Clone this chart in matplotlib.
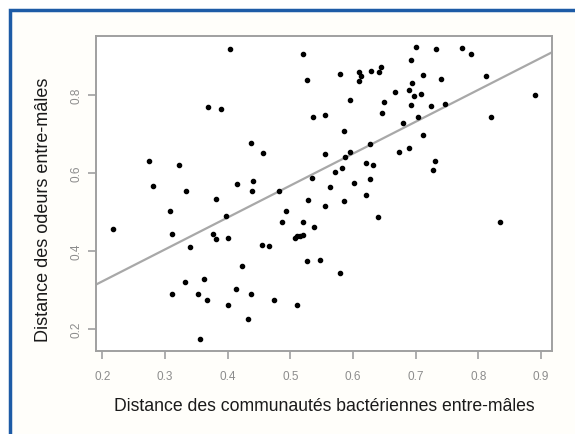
import numpy as np
import matplotlib
matplotlib.use('Agg')
import matplotlib.pyplot as plt
from matplotlib.patches import Rectangle

# bacterial community distance between males
bact_dist = [
    0.217, 0.274, 0.281, 0.322, 0.308, 0.312, 0.334, 0.340, 0.312, 0.332,
    0.353, 0.356, 0.362, 0.367, 0.368, 0.389, 0.377, 0.381, 0.382, 0.398,
    0.401, 0.401, 0.404, 0.415, 0.414, 0.423, 0.438, 0.440, 0.439, 0.433,
    0.437, 0.457, 0.455, 0.466, 0.474, 0.482, 0.493, 0.486, 0.507, 0.511,
    0.515, 0.521, 0.521, 0.511, 0.520, 0.527, 0.528, 0.526, 0.535, 0.536,
    0.537, 0.548, 0.556, 0.556, 0.556, 0.563, 0.571, 0.579, 0.580, 0.583,
    0.585, 0.586, 0.588, 0.595, 0.596, 0.602, 0.609, 0.609, 0.613, 0.620,
    0.620, 0.627, 0.627, 0.629, 0.632, 0.642, 0.644, 0.640, 0.646, 0.650,
    0.667, 0.680, 0.674, 0.689, 0.690, 0.692, 0.694, 0.692, 0.698, 0.701,
    0.704, 0.709, 0.711, 0.711, 0.725, 0.728, 0.730, 0.733, 0.740, 0.746,
    0.774, 0.789, 0.812, 0.820, 0.835, 0.890,
]
# odour distance between males
odour_dist = [
    0.456, 0.631, 0.567, 0.622, 0.502, 0.444, 0.553, 0.411, 0.290, 0.320,
    0.291, 0.175, 0.330, 0.274, 0.769, 0.763, 0.444, 0.430, 0.534, 0.491,
    0.434, 0.263, 0.919, 0.571, 0.303, 0.361, 0.677, 0.581, 0.555, 0.226,
    0.290, 0.652, 0.416, 0.414, 0.274, 0.553, 0.502, 0.474, 0.434, 0.438,
    0.440, 0.442, 0.474, 0.261, 0.904, 0.839, 0.530, 0.375, 0.587, 0.744,
    0.461, 0.377, 0.750, 0.649, 0.515, 0.565, 0.602, 0.344, 0.855, 0.614,
    0.709, 0.528, 0.642, 0.787, 0.654, 0.575, 0.859, 0.837, 0.848, 0.626,
    0.544, 0.675, 0.585, 0.861, 0.622, 0.859, 0.872, 0.487, 0.753, 0.781,
    0.808, 0.729, 0.655, 0.812, 0.665, 0.889, 0.832, 0.774, 0.798, 0.922,
    0.744, 0.802, 0.851, 0.697, 0.771, 0.609, 0.630, 0.919, 0.841, 0.777,
    0.921, 0.904, 0.849, 0.743, 0.475, 0.800,
]
fit_intercept = 0.159
fit_slope = 0.818

x_ticks = [0.2, 0.3, 0.4, 0.5, 0.6, 0.7, 0.8, 0.9]
y_ticks = [0.2, 0.4, 0.6, 0.8]

plt.rcParams['font.family'] = ['Liberation Sans', 'DejaVu Sans']


def padded(vals, frac=0.04):
    # R-style axis range: data range stretched by 4% on each side
    lo, hi = min(vals), max(vals)
    d = (hi - lo) * frac
    return lo - d, hi + d


fig = plt.figure(figsize=(5.75, 4.35), dpi=100, facecolor='white')
W, H = 575, 435
# blue frame around the slide (only left and top edges are visible)
frame = Rectangle((9.5 / W, -0.1), 1.0, 1.1 - 10.5 / H, transform=fig.transFigure,
                  facecolor='#fffefa', edgecolor='#1d5ba6', linewidth=2.5,
                  zorder=-10)
fig.patches.append(frame)

ax = fig.add_axes([96 / W, 1 - 351.7 / H, (551.7 - 96) / W, (351.7 - 36.7) / H])
ax.set_facecolor('white')

ax.scatter(bact_dist, odour_dist, s=9, color='black', zorder=3)
ax.axline((0, fit_intercept), slope=fit_slope, color='#a8a8a8', linewidth=1.6, zorder=2)
ax.set_xlim(*padded(bact_dist))
ax.set_ylim(*padded(odour_dist))

for sp in ax.spines.values():
    sp.set_color('#a0a0a0')
    sp.set_linewidth(1.4)

ax.set_xticks(x_ticks)
ax.set_yticks(y_ticks)
ax.set_xticklabels(['%.1f' % v for v in x_ticks])
ax.set_yticklabels(['%.1f' % v for v in y_ticks], rotation=90, va='center')
ax.tick_params(axis='x', direction='out', length=6, width=1.2, color='#a0a0a0',
               labelcolor='#8c8c8c', labelsize=8.5, pad=8)
ax.tick_params(axis='y', direction='out', length=6, width=1.2, color='#a0a0a0',
               labelcolor='#8c8c8c', labelsize=8.5, pad=4)

ax.set_xlabel('Distance des communautés bactériennes entre-mâles',
              fontsize=12.7, color='#1a1a1a', labelpad=11)
ax.set_ylabel('Distance des odeurs entre-mâles', fontsize=13,
              color='#1a1a1a')
ax.yaxis.set_label_coords(-0.097, 0.45)

fig.savefig('out.png', dpi=100, facecolor=fig.get_facecolor())
